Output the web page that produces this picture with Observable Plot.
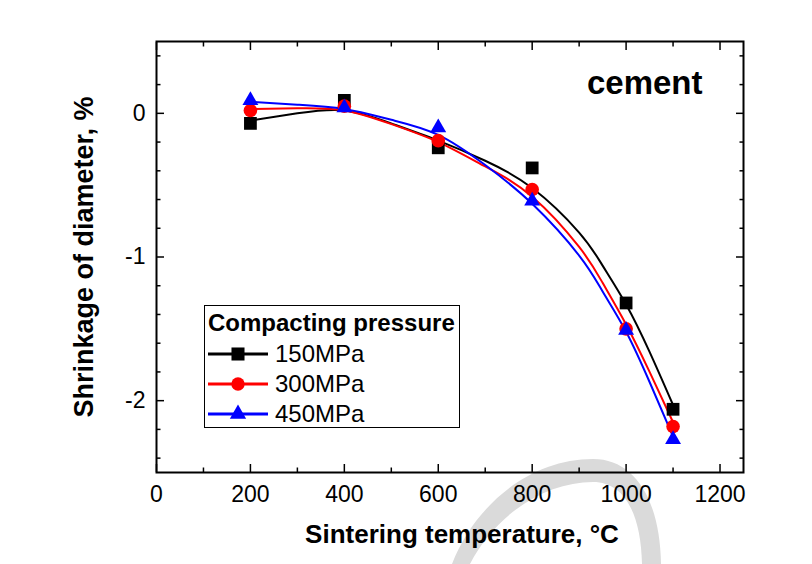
<!DOCTYPE html>
<html>
<head>
<meta charset="utf-8">
<script src="https://cdn.jsdelivr.net/npm/d3@7"></script>
<script src="https://cdn.jsdelivr.net/npm/@observablehq/plot@0.6"></script>
<style>
  html, body { margin: 0; padding: 0; background: #fff; }
  #wrap { position: relative; width: 812px; height: 564px; overflow: hidden; font-family: "Liberation Sans", Arial, sans-serif; }
  #wm { position: absolute; left: 0; top: 0; }
  #chart { position: absolute; left: 0; top: 0; }
  #legend { position: absolute; left: 204px; top: 305px; width: 256px; height: 123px; border: 1.5px solid #000; background: #fff; box-sizing: border-box; }
  #legend .title { position: absolute; left: 3px; top: 3px; font-weight: bold; font-size: 24px; white-space: nowrap; }
  #legend .row { position: absolute; left: 2px; height: 30px; display: flex; align-items: center; }
  #legend .row span { font-size: 24px; margin-left: 6px; }
</style>
</head>
<body>
<div id="wrap">
  <svg id="wm" width="812" height="564">
    <path d="M 452 564 C 475 505, 530 459, 593 459 C 635 459, 660 500, 661 564 L 642 564 C 641 515, 625 482, 593 482 C 545 482, 495 515, 470 564 Z" fill="#dadada"/>
  </svg>
  <div id="chart"></div>
  <div id="legend"></div>
</div>
<script>
// ---- data ----
const temps = [200, 400, 600, 800, 1000, 1100];
const p150 = [-0.07, 0.09, -0.24, -0.38, -1.32, -2.06];
const p300 = [0.02, 0.05, -0.19, -0.53, -1.50, -2.18];
const p450 = [0.09, 0.04, -0.10, -0.61, -1.51, -2.27];

// fitted curves
const fitT   = [200, 300, 400, 500, 600, 700, 800, 900, 950, 1000, 1050, 1100];
const fit150 = [-0.05, 0.00, 0.02, -0.07, -0.19, -0.33, -0.52, -0.83, -1.06, -1.33, -1.66, -2.03];
const fit300 = [0.03, 0.035, 0.02, -0.075, -0.20, -0.37, -0.58, -0.93, -1.18, -1.47, -1.80, -2.15];
const fit450 = [0.08, 0.06, 0.03, -0.045, -0.15, -0.36, -0.63, -0.99, -1.24, -1.52, -1.87, -2.25];

const seriesNames = ["150MPa", "300MPa", "450MPa"];
const seriesColors = ["#000000", "#ff0000", "#0000ff"];
const seriesSymbols = ["square", "circle", "triangle"];
const seriesR = [7.2, 6.8, 5.9];
const points = [p150, p300, p450];
const fits = [fit150, fit300, fit450];

const xMajor = [0, 200, 400, 600, 800, 1000, 1200];
const xMinor = [100, 300, 500, 700, 900, 1100];
const yMajor = [-2, -1, 0];
const yMinor = [-2.4, -2.2, -1.8, -1.6, -1.4, -1.2, -0.8, -0.6, -0.4, -0.2, 0.2, 0.4];

const legendTitle = "Compacting pressure";
const xTitle = "Sintering temperature, °C";
const yTitle = "Shrinkage of diameter, %";
const materialLabel = "cement";

// ---- build tables ----
const pointRows = [], fitRows = [];
seriesNames.forEach((s, i) => {
  temps.forEach((t, j) => pointRows.push({T: t, v: points[i][j], s}));
  fitT.forEach((t, j) => fitRows.push({T: t, v: fits[i][j], s}));
});

const marks = [
  Plot.frame({stroke: "#000", strokeWidth: 2}),
  // minor ticks (inward) on all four sides
  Plot.axisX({ticks: xMinor, tickSize: -4.5, tickFormat: () => "", strokeWidth: 1.5}),
  Plot.axisX({anchor: "top", ticks: xMinor, tickSize: -4.5, tickFormat: () => "", strokeWidth: 1.5}),
  Plot.axisY({ticks: yMinor, tickSize: -4.5, tickFormat: () => "", strokeWidth: 1.5}),
  Plot.axisY({anchor: "right", ticks: yMinor, tickSize: -4.5, tickFormat: () => "", strokeWidth: 1.5}),
  // major ticks
  Plot.axisX({ticks: xMajor, tickSize: -8, tickFormat: () => "", strokeWidth: 1.5}),
  Plot.axisX({anchor: "top", ticks: xMajor, tickSize: -8, tickFormat: () => "", strokeWidth: 1.5}),
  Plot.axisY({ticks: yMajor, tickSize: -8, tickFormat: () => "", strokeWidth: 1.5}),
  Plot.axisY({anchor: "right", ticks: yMajor, tickSize: -8, tickFormat: () => "", strokeWidth: 1.5}),
  // labels
  Plot.axisX({ticks: xMajor, tickSize: 0, tickPadding: 13, fontSize: 23, tickFormat: d => String(d), label: null}),
  Plot.axisY({ticks: yMajor, tickSize: 0, tickPadding: 11, fontSize: 23, tickFormat: d => String(d), label: null}),
  Plot.text([xTitle], {frameAnchor: "bottom", textAnchor: "middle", lineAnchor: "bottom", dy: 70, dx: 12, fontSize: 26, fontWeight: "bold", fill: "#000"}),
  Plot.text([yTitle], {frameAnchor: "left", textAnchor: "middle", lineAnchor: "middle", rotate: -90, dx: -72, fontSize: 27, fontWeight: "bold", fill: "#000"}),
  Plot.text([materialLabel], {frameAnchor: "top-right", textAnchor: "end", lineAnchor: "bottom", dx: -41, dy: 52, fontSize: 33, fontWeight: "bold", fill: "#000"})
];

seriesNames.forEach((s, i) => {
  marks.push(Plot.line(fitRows.filter(d => d.s === s), {x: "T", y: "v", stroke: seriesColors[i], strokeWidth: 2, curve: "natural"}));
});
seriesNames.forEach((s, i) => {
  marks.push(Plot.dot(pointRows.filter(d => d.s === s), {x: "T", y: "v", symbol: seriesSymbols[i], r: seriesR[i], fill: seriesColors[i], stroke: "none"}));
});

const chart = Plot.plot({
  width: 812, height: 564,
  marginLeft: 156, marginRight: 69, marginTop: 41, marginBottom: 92,
  x: {domain: [0, 1250], label: null},
  y: {domain: [-2.5, 0.5], label: null},
  style: {fontFamily: "'Liberation Sans', Arial, sans-serif", background: "transparent", color: "#000", overflow: "visible"},
  marks
});
document.getElementById("chart").appendChild(chart);

// ---- legend ----
const legend = document.getElementById("legend");
const t = document.createElement("div");
t.className = "title"; t.textContent = legendTitle;
legend.appendChild(t);
const symMap = {square: d3.symbolSquare, circle: d3.symbolCircle, triangle: d3.symbolTriangle};
const symSize = [170, 140, 115];
seriesNames.forEach((s, i) => {
  const row = document.createElement("div");
  row.className = "row";
  row.style.top = (33 + i * 30) + "px";
  const svg = d3.create("svg").attr("width", 62).attr("height", 30);
  svg.append("line").attr("x1", 1).attr("x2", 61).attr("y1", 15).attr("y2", 15).attr("stroke", seriesColors[i]).attr("stroke-width", 3);
  svg.append("path").attr("transform", "translate(31,15)").attr("d", d3.symbol(symMap[seriesSymbols[i]], symSize[i])()).attr("fill", seriesColors[i]);
  row.appendChild(svg.node());
  const lab = document.createElement("span");
  lab.textContent = s;
  row.appendChild(lab);
  legend.appendChild(row);
});
</script>
</body>
</html>
